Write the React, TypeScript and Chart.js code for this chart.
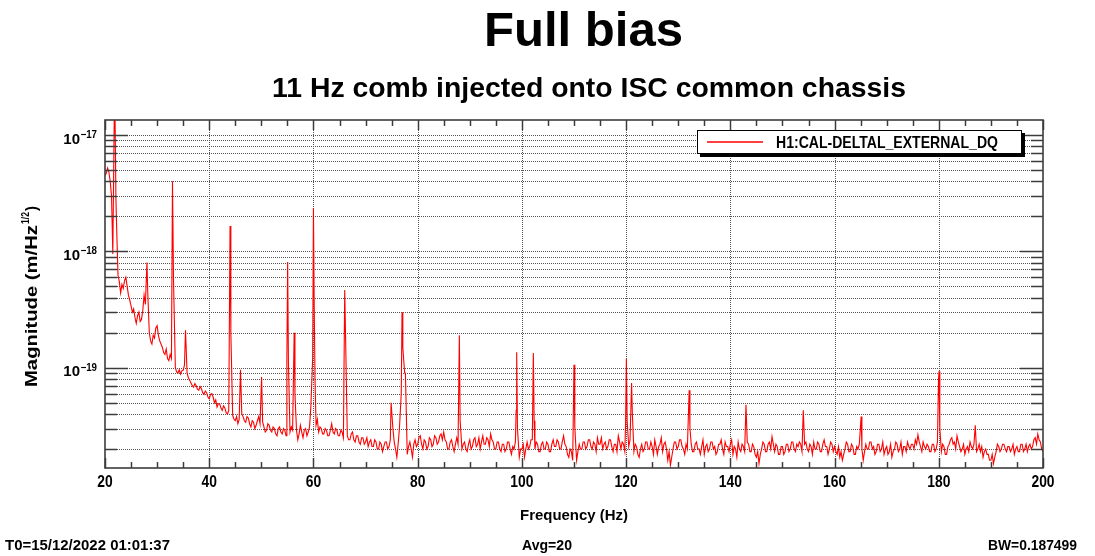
import React, { useEffect, useRef } from "react";
import { Chart, registerables } from "chart.js";

Chart.register(...registerables);

// ---- texts ----
const TITLE = "Full bias";
const SUBTITLE = "11 Hz comb injected onto ISC common chassis";
const SERIES_NAME = "H1:CAL-DELTAL_EXTERNAL_DQ";
const X_TITLE = "Frequency (Hz)";
const Y_TITLE_MAIN = "Magnitude (m/Hz";
const Y_TITLE_SUP = "1/2";
const Y_TITLE_END = ")";
const FOOT_LEFT = "T0=15/12/2022 01:01:37";
const FOOT_MID = "Avg=20";
const FOOT_RIGHT = "BW=0.187499";

// ---- axes ----
const X_MIN = 20;
const X_MAX = 200;
const Y_MIN = 1.374e-20;
const Y_MAX = 1.346e-17;
const X_TICKS = [20, 40, 60, 80, 100, 120, 140, 160, 180, 200];
const X_MINOR_STEP = 5;
const Y_DECADE_EXPONENTS = [-17, -18, -19];

// ---- data (magnitudes in units of 1e-20 m/Hz^1/2), floor sampled every 0.25 Hz ----
const UNIT = 1e-20;
const FLOOR_START_HZ = 20;
const FLOOR_STEP_HZ = 0.25;
const FLOOR = [
  450, 470, 520, 480, 400, 300, 95, 70, 80, 150, 62, 55, 44, 52, 48, 56, 60, 50, 42, 38,
  34, 30, 32, 27, 24, 28, 30, 25, 26, 31, 42, 35, 18, 24, 20, 17, 16, 19, 18, 22,
  23, 19, 17, 16, 15, 13.5, 13, 14.5, 12, 11.5, 13, 12, 30, 14, 10, 9.2, 9, 9.6, 8.8, 9.4,
  9.5, 10.5, 12, 9, 8.2, 7.8, 7.4, 7.0, 6.8, 7.3, 7.0, 6.5, 6.4, 6.9, 6.6, 6.1, 5.9, 6.3, 6.1, 5.6,
  5.4, 5.9, 6.0, 5.6, 5.0, 5.3, 4.6, 4.9, 4.9, 4.5, 4.3, 4.7, 4.5, 4.1, 4.0, 4.3, 4.4, 3.8, 3.9, 3.6,
  3.5, 3.8, 3.3, 3.6, 4.2, 4.0, 3.8, 3.5, 3.4, 3.8, 3.7, 3.3, 3.1, 3.5, 3.4, 3.0, 3.2, 3.5, 3.8, 3.3,
  4.0, 3.4, 3.1, 2.8, 2.9, 3.3, 3.2, 2.9, 2.8, 3.1, 3.0, 2.7, 2.6, 3.0, 3.1, 2.8, 2.7, 3.0, 2.9, 2.6,
  3.0, 2.9, 2.8, 3.1, 2.9, 2.6, 2.7, 2.9, 2.4, 2.7, 3.2, 2.8, 2.5, 2.9, 3.0, 2.6, 2.8, 3.1, 4.6, 6,
  20, 8, 3.2, 3.6, 2.8, 3.1, 3.0, 2.7, 2.7, 3.0, 2.9, 2.6, 2.6, 2.9, 3.3, 2.8, 2.7, 3.0, 2.9, 2.6,
  2.6, 2.9, 2.8, 2.5, 2.5, 2.8, 2.6, 2.4, 2.4, 2.7, 2.8, 2.4, 2.3, 2.6, 2.6, 2.3, 2.2, 2.5, 2.5, 2.2,
  2.3, 2.5, 2.1, 2.3, 2.4, 2.1, 2.1, 2.4, 2.3, 2.0, 2.0, 2.3, 2.2, 1.9, 2.1, 2.3, 2.3, 2.0, 2.1, 2.4,
  4.0, 3.0, 2.3, 2.0, 1.7, 2.2, 3.0, 6, 12, 20, 9, 3, 1.8, 2.1, 2.3, 2.0, 1.7, 2.2, 2.4, 2.1,
  2.2, 2.5, 2.6, 2.2, 2.0, 2.4, 2.3, 2.0, 2.1, 2.5, 2.4, 2.1, 2.2, 2.6, 2.5, 2.2, 2.3, 2.6, 2.7, 2.4,
  2.8, 2.4, 2.3, 2.0, 2.0, 2.3, 2.4, 2.1, 1.9, 2.2, 2.5, 2.2, 2.3, 2.5, 2.0, 2.2, 2.3, 2.0, 1.9, 2.2,
  2.4, 2.0, 2.1, 2.4, 2.5, 2.1, 2.2, 2.5, 2.0, 2.3, 2.6, 2.2, 2.2, 2.5, 2.4, 2.1, 2.7, 2.4, 2.3, 2.0,
  2.0, 2.3, 2.3, 2.0, 1.9, 2.2, 2.2, 1.9, 2.0, 2.3, 2.3, 2.0, 1.8, 2.1, 2.0, 2.3, 2.1, 1.9, 1.7, 2.0,
  2.0, 2.2, 1.7, 2.0, 2.3, 2.0, 2.1, 2.4, 2.4, 2.0, 2.0, 2.3, 2.2, 1.9, 1.9, 2.2, 2.3, 2.0, 2.0, 2.3,
  2.2, 1.9, 1.9, 2.2, 2.4, 2.1, 2.1, 2.4, 2.3, 2.0, 2.0, 2.3, 2.6, 2.2, 2.1, 1.8, 1.7, 2.0, 1.9, 1.6,
  1.8, 2.1, 1.6, 1.9, 2.2, 2.0, 2.0, 2.3, 2.3, 2.0, 2.1, 2.4, 2.4, 2.1, 2.0, 2.3, 2.2, 1.9, 2.5, 2.2,
  2.2, 2.5, 2.0, 2.2, 2.3, 2.0, 2.1, 2.4, 2.4, 2.1, 1.9, 2.2, 2.2, 1.9, 2.6, 2.3, 2.0, 2.3, 2.2, 1.9,
  2.4, 2.2, 2.1, 2.4, 2.3, 2.0, 1.9, 2.2, 2.1, 1.8, 1.7, 2.0, 2.2, 1.9, 2.0, 2.3, 2.3, 2.0, 2.0, 2.3,
  2.1, 1.8, 2.4, 2.1, 1.8, 2.1, 2.2, 2.5, 1.9, 2.2, 2.3, 2.0, 1.6, 1.9, 1.45, 1.7, 2.0, 2.3, 2.3, 2.0,
  2.1, 2.4, 2.4, 2.1, 2.0, 1.8, 2.2, 2.0, 2.1, 2.4, 2.2, 1.9, 1.9, 2.2, 2.3, 2.0, 2.0, 1.8, 2.1, 2.4,
  1.8, 2.1, 2.2, 1.9, 2.0, 2.3, 2.3, 2.0, 2.1, 1.8, 1.9, 2.2, 2.2, 2.4, 2.0, 1.8, 2.3, 2.1, 2.1, 1.9,
  2.2, 2.4, 1.8, 2.1, 2.0, 1.7, 2.3, 2.0, 1.9, 2.2, 2.1, 1.9, 2.0, 2.3, 2.2, 1.9, 1.9, 2.2, 2.1, 1.8,
  1.7, 1.9, 1.5, 1.8, 2.0, 2.3, 2.2, 1.9, 1.9, 2.2, 2.3, 2.0, 2.55, 2.2, 1.9, 2.2, 2.1, 1.8, 1.8, 2.1,
  2.1, 1.8, 1.9, 2.2, 2.2, 1.9, 2.0, 2.3, 2.3, 2.0, 1.9, 2.2, 2.1, 2.3, 2.2, 1.9, 2.0, 2.2, 2.3, 2.0,
  1.9, 2.2, 2.1, 1.8, 2.3, 2.0, 2.0, 2.3, 2.2, 1.9, 1.9, 2.2, 2.4, 2.1, 2.1, 1.8, 2.0, 2.3, 2.2, 1.9,
  2.1, 1.9, 1.8, 2.1, 1.7, 1.9, 1.6, 1.8, 2.0, 2.3, 2.2, 1.9, 1.9, 2.2, 2.1, 1.8, 1.8, 2.1, 2.0, 2.2,
  1.7, 2.0, 1.6, 1.9, 2.2, 2.0, 2.0, 2.3, 2.3, 2.0, 2.1, 1.8, 1.9, 2.2, 2.2, 1.9, 2.0, 2.3, 1.8, 2.0,
  2.1, 1.8, 1.9, 2.2, 1.7, 1.9, 2.0, 2.3, 2.2, 1.9, 2.0, 2.3, 1.8, 2.1, 2.1, 1.9, 2.3, 2.1, 2.0, 2.2,
  2.2, 2.0, 2.4, 2.2, 2.65, 2.3, 2.1, 1.9, 2.3, 2.1, 2.0, 2.2, 2.1, 1.9, 1.9, 2.2, 2.2, 1.9, 2.0, 2.3,
  2.2, 2.0, 1.9, 2.2, 2.1, 1.8, 1.8, 2.1, 2.2, 2.4, 2.5, 2.2, 2.3, 2.0, 2.6, 2.3, 2.1, 1.9, 2.0, 2.2,
  1.8, 2.0, 2.1, 1.9, 2.3, 2.1, 2.0, 2.2, 2.2, 1.9, 2.0, 2.2, 1.9, 2.1, 1.7, 1.9, 2.0, 1.8, 1.8, 1.6,
  1.6, 1.8, 1.5, 1.7, 1.9, 2.2, 2.1, 1.9, 2.0, 2.2, 2.2, 2.0, 1.9, 2.1, 2.1, 1.9, 2.0, 2.2, 1.8, 2.0,
  2.1, 1.9, 1.9, 2.2, 2.2, 1.9, 2.0, 2.2, 1.9, 2.1, 2.2, 2.0, 2.1, 2.4, 2.5, 2.2, 2.7, 2.4, 2.3, 2.0,
  1.9,
];
const PEAK_FREQS = [
  21.85, 22.1, 28.05, 28.2, 32.95, 33.15, 35.45, 44.0, 44.15, 46.0,
  50.05, 54.9, 55.05, 55.2, 56.3, 56.45, 59.85, 60.0, 60.15, 60.3,
  66.0, 66.15, 74.9, 76.85, 77.0, 77.15, 77.65, 88.0, 88.15, 98.9,
  99.0, 99.15, 102.2, 102.35, 110.0, 110.15, 119.9, 120.05, 120.2, 121.05,
  121.2, 132.1, 132.25, 143.0, 154.0, 165.1, 179.95, 180.05, 180.2, 187.0,
];
const PEAK_MAGS = [
  3000, 276, 80, 45, 400, 56, 21, 165, 20, 9.6,
  8.3, 11.6, 81, 11, 20, 6, 12, 236, 33, 8,
  46.5, 20, 5.0, 6, 30, 15, 9, 19, 3.5, 4.3,
  13.6, 3, 13.4, 3.5, 10.6, 3.1, 3.3, 11.9, 3.5, 7.4,
  4, 6.4, 3, 4.8, 4.3, 3.8, 7.9, 9.3, 3, 3.2,
];

// ---- style ----
const FONT = '"Liberation Sans", Arial, Helvetica, sans-serif';
const LINE_COLOR = "#ff0000";
const GRID_COLOR = "#555555";
const FRAME_COLOR = "#3c3c3c";

function buildPoints() {
  const pts: { x: number; y: number }[] = [];
  FLOOR.forEach((v, i) => {
    const f = FLOOR_START_HZ + i * FLOOR_STEP_HZ;
    if (PEAK_FREQS.some((p) => Math.abs(p - f) < 0.12)) return;
    pts.push({ x: f, y: v * UNIT });
  });
  PEAK_FREQS.forEach((f, i) => pts.push({ x: f, y: PEAK_MAGS[i] * UNIT }));
  pts.sort((a, b) => a.x - b.x);
  return pts;
}

function yTickValues() {
  const out: { v: number; major: boolean }[] = [];
  for (let e = -21; e <= -16; e++) {
    for (let m = 1; m <= 9; m++) {
      const v = m * Math.pow(10, e);
      if (v >= Y_MIN && v <= Y_MAX) out.push({ v, major: m === 1 });
    }
  }
  return out;
}

type TextOpts = { width?: number; sx?: number; align?: "left" | "center" | "right"; rotate?: boolean };
function drawText(ctx: CanvasRenderingContext2D, s: string, x: number, y: number, size: number, o: TextOpts = {}) {
  ctx.save();
  ctx.font = `bold ${size}px ${FONT}`;
  ctx.fillStyle = "#000";
  ctx.textBaseline = "alphabetic";
  ctx.textAlign = "left";
  const w = ctx.measureText(s).width;
  const sx = o.width ? o.width / w : o.sx ?? 1;
  ctx.translate(x, y);
  if (o.rotate) ctx.rotate(-Math.PI / 2);
  ctx.scale(sx, 1);
  const align = o.align ?? "left";
  const off = align === "left" ? 0 : align === "center" ? -w / 2 : -w;
  ctx.fillText(s, off, 0);
  ctx.restore();
  return w * sx;
}

function seg(ctx: CanvasRenderingContext2D, x1: number, y1: number, x2: number, y2: number) {
  ctx.beginPath();
  ctx.moveTo(x1, y1);
  ctx.lineTo(x2, y2);
  ctx.stroke();
}

const rootStylePlugin = {
  id: "rootStyle",
  beforeDatasetsDraw(chart: any) {
    const { ctx, chartArea: a, scales } = chart;
    const xs = scales.x;
    const ys = scales.y;
    ctx.save();
    ctx.strokeStyle = GRID_COLOR;
    ctx.lineWidth = 1;
    ctx.setLineDash([1, 1]);
    for (const t of yTickValues()) {
      const p = Math.round(ys.getPixelForValue(t.v)) + 0.5;
      seg(ctx, a.left, p, a.right, p);
    }
    for (const v of X_TICKS) {
      if (v <= X_MIN || v >= X_MAX) continue;
      const p = Math.round(xs.getPixelForValue(v)) + 0.5;
      seg(ctx, p, a.top, p, a.bottom);
    }
    ctx.restore();
  },
  afterDraw(chart: any) {
    const { ctx, chartArea: a, scales } = chart;
    const xs = scales.x;
    const ys = scales.y;
    ctx.save();
    ctx.strokeStyle = FRAME_COLOR;
    ctx.lineWidth = 1.5;
    for (const t of yTickValues()) {
      const p = Math.round(ys.getPixelForValue(t.v)) + 0.5;
      const len = t.major ? 23 : 12;
      seg(ctx, a.left, p, a.left + len, p);
      seg(ctx, a.right - len, p, a.right, p);
    }
    for (let f = X_MIN; f <= X_MAX; f += X_MINOR_STEP) {
      const p = Math.round(xs.getPixelForValue(f)) + 0.5;
      const len = X_TICKS.includes(f) ? 10 : 6;
      seg(ctx, p, a.top, p, a.top + len);
      seg(ctx, p, a.bottom - len, p, a.bottom);
    }
    ctx.lineWidth = 1.6;
    ctx.strokeRect(a.left, a.top, a.right - a.left, a.bottom - a.top);
    ctx.restore();

    for (const v of X_TICKS) {
      drawText(ctx, String(v), xs.getPixelForValue(v), 487, 16.3, { sx: 0.85, align: "center" });
    }
    for (const e of Y_DECADE_EXPONENTS) {
      const p = ys.getPixelForValue(Math.pow(10, e));
      drawText(ctx, "10", 80, p + 8.5, 15, { width: 16.7, align: "right" });
      drawText(ctx, "\u2212" + String(Math.abs(e)), 80.5, p + 3, 10.5, { width: 16.5 });
    }
    drawText(ctx, X_TITLE, (a.left + a.right) / 2, 519.5, 15, { width: 108, align: "center" });
    const w1 = drawText(ctx, Y_TITLE_MAIN, 36.5, 387, 16.3, { width: 162, rotate: true });
    drawText(ctx, Y_TITLE_SUP, 28.5, 387 - w1 - 1, 10, { width: 12, rotate: true });
    drawText(ctx, Y_TITLE_END, 36.5, 387 - w1 - 14, 16.3, { sx: 0.9, rotate: true });

    drawText(ctx, TITLE, 583.5, 46, 48, { width: 199, align: "center" });
    drawText(ctx, SUBTITLE, 589, 97, 27, { width: 634, align: "center" });

    drawText(ctx, FOOT_LEFT, 5, 550, 14.5, { width: 165 });
    drawText(ctx, FOOT_MID, 522, 550, 14.5, { width: 50 });
    drawText(ctx, FOOT_RIGHT, 988, 550, 14.5, { width: 89 });

    ctx.save();
    ctx.fillStyle = "#000";
    ctx.fillRect(700, 133, 325, 24);
    ctx.fillStyle = "#fff";
    ctx.fillRect(697, 130, 325, 24);
    ctx.strokeStyle = "#000";
    ctx.lineWidth = 1;
    ctx.strokeRect(697.5, 130.5, 324, 23);
    ctx.strokeStyle = LINE_COLOR;
    ctx.lineWidth = 1.4;
    seg(ctx, 707, 142, 763, 142);
    ctx.restore();
    drawText(ctx, SERIES_NAME, 776, 147.5, 16.5, { width: 222 });
  },
};

export default function App() {
  const ref = useRef<HTMLCanvasElement | null>(null);
  useEffect(() => {
    if (!ref.current) return;
    const chart = new Chart(ref.current, {
      type: "line",
      data: {
        datasets: [
          {
            label: SERIES_NAME,
            data: buildPoints(),
            borderColor: LINE_COLOR,
            borderWidth: 1.1,
            pointRadius: 0,
            tension: 0,
            fill: false,
          },
        ],
      },
      options: {
        animation: false,
        responsive: false,
        devicePixelRatio: 1,
        layout: { padding: { left: 105, right: 52, top: 120, bottom: 88 } },
        scales: {
          x: { type: "linear", min: X_MIN, max: X_MAX, display: false },
          y: { type: "logarithmic", min: Y_MIN, max: Y_MAX, display: false },
        },
        plugins: {
          legend: { display: false },
          title: { display: false },
          tooltip: { enabled: false },
        },
      },
      plugins: [rootStylePlugin],
    });
    return () => chart.destroy();
  }, []);
  return (
    <div style={{ position: "absolute", left: 0, top: 0, width: 1095, height: 556, background: "#fff" }}>
      <canvas ref={ref} width={1095} height={556} style={{ display: "block" }} />
    </div>
  );
}
